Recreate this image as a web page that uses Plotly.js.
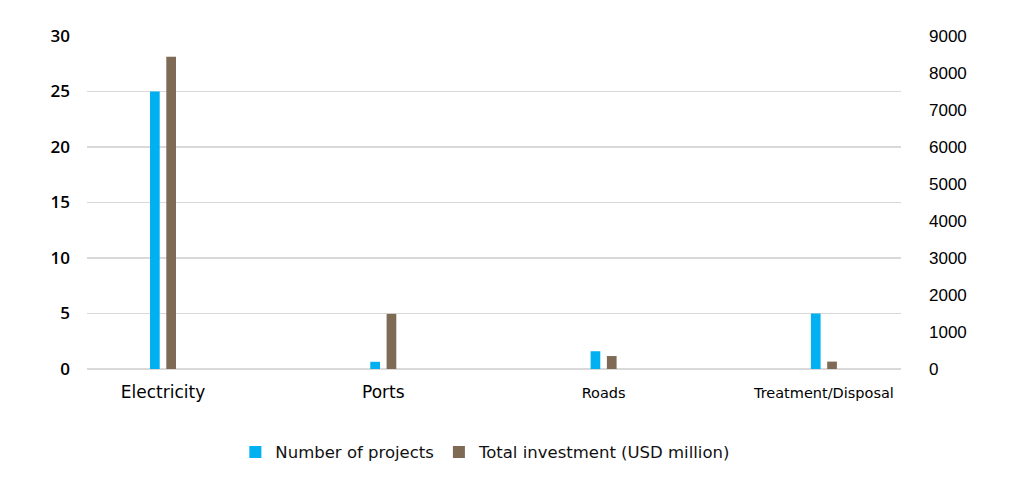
<!DOCTYPE html>
<html>
<head>
<meta charset="utf-8">
<script src="https://cdn.plot.ly/plotly-3.0.1.min.js"></script>
<style>html,body{margin:0;padding:0;background:#fff;}#chart{width:1024px;height:482px;}</style>
</head>
<body>
<div id="chart"></div>
<script>
var categories = ["Electricity", "Ports", "Roads", "Treatment/Disposal"];
var tickLabels = [
  "<span style='font-size:17px'>Electricity</span>",
  "<span style='font-size:17px'>Ports</span>",
  "<span style='font-size:14.5px'>Roads</span>",
  "<span style='font-size:14.5px'>Treatment/Disposal</span>"
];
var numberOfProjects = [25, 0.65, 1.6, 5];
var totalInvestment = [8440, 1490, 350, 200];
var leftTicks = [0, 5, 10, 15, 20, 25, 30];
var rightTicks = [0, 1000, 2000, 3000, 4000, 5000, 6000, 7000, 8000, 9000];

var traces = [
  {
    type: "bar", name: "Number of projects", x: categories, y: numberOfProjects,
    xaxis: "x", yaxis: "y", width: 0.044, offset: -0.059,
    marker: {color: "#00B0F0"}, hoverinfo: "x+y"
  },
  {
    type: "bar", name: "Total investment (USD million)", x: categories, y: totalInvestment,
    xaxis: "x", yaxis: "y2", width: 0.044, offset: 0.015,
    marker: {color: "#7F6A55"}, hoverinfo: "x+y"
  }
];

var layout = {
  width: 1024, height: 482,
  margin: {l: 87, r: 123, t: 36, b: 113},
  paper_bgcolor: "#fff", plot_bgcolor: "#fff",
  showlegend: true,
  barmode: "overlay",
  font: {family: "DejaVu Sans, sans-serif", color: "#000"},
  xaxis: {
    type: "category", range: [-0.345, 3.35],
    tickvals: categories, ticktext: tickLabels,
    showgrid: false, zeroline: false, showline: false, ticks: "",
    ticklabelstandoff: 13,
    tickfont: {family: "DejaVu Sans, sans-serif", size: 15, color: "#000"}
  },
  yaxis: {
    range: [0, 30], tickvals: leftTicks, ticktext: leftTicks.map(String),
    showgrid: true, gridcolor: "#d9d9d9", gridwidth: 1.5,
    zeroline: true, zerolinecolor: "#d9d9d9", zerolinewidth: 1.5,
    showline: false, ticks: "",
    ticklabelstandoff: 16,
    tickfont: {family: "Open Sans, sans-serif", size: 17, color: "#000", weight: 600}
  },
  yaxis2: {
    range: [0, 9000], overlaying: "y", side: "right",
    tickvals: rightTicks, ticktext: rightTicks.map(String),
    showgrid: false, zeroline: false, showline: false, ticks: "",
    ticklabelstandoff: 27,
    tickfont: {family: "Liberation Sans, Arial, sans-serif", size: 17, color: "#000"}
  },
  legend: {
    orientation: "h", x: 0.49, xanchor: "center", y: -0.25, yanchor: "middle",
    font: {family: "DejaVu Sans, sans-serif", size: 16.5, color: "#111"},
    itemwidth: 30, traceorder: "normal"
  }
};

Plotly.newPlot("chart", traces, layout, {displayModeBar: false, staticPlot: true});
</script>
</body>
</html>
